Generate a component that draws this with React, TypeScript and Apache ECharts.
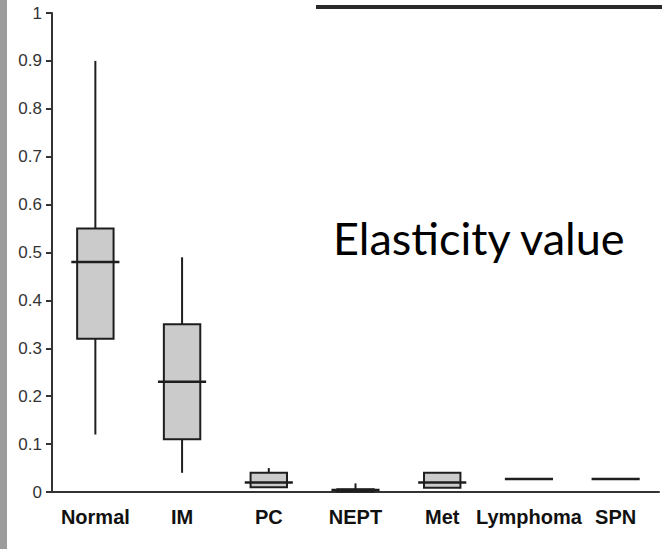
import React, { useEffect, useRef } from "react";
import * as echarts from "echarts";

const categories = ["Normal", "IM", "PC", "NEPT", "Met", "Lymphoma", "SPN"];
const mins = [0.12, 0.04, 0.01, 0.0, 0.009, 0.027, 0.027];
const q1s = [0.32, 0.11, 0.01, 0.001, 0.009, 0.027, 0.027];
const medians = [0.48, 0.23, 0.02, 0.004, 0.02, 0.027, 0.027];
const q3s = [0.55, 0.35, 0.04, 0.006, 0.04, 0.027, 0.027];
const maxs = [0.9, 0.49, 0.05, 0.018, 0.04, 0.027, 0.027];
const yTicks = [0, 0.1, 0.2, 0.3, 0.4, 0.5, 0.6, 0.7, 0.8, 0.9, 1];
const annotation = "Elasticity value";

export default function App() {
  const ref = useRef<HTMLDivElement>(null);
  useEffect(() => {
    if (!ref.current) return;
    const chart = echarts.init(ref.current, null, { renderer: "svg" });
    const data = categories.map((_, i) => [i, mins[i], q1s[i], medians[i], q3s[i], maxs[i]]);
    const renderItem = (params: any, api: any) => {
      const idx = api.value(0);
      const band = api.size([1, 0])[0];
      const boxW = band * 0.42;
      const medW = band * 0.555;
      const pMin = api.coord([idx, api.value(1)]);
      const pQ1 = api.coord([idx, api.value(2)]);
      const pMed = api.coord([idx, api.value(3)]);
      const pQ3 = api.coord([idx, api.value(4)]);
      const pMax = api.coord([idx, api.value(5)]);
      const x = pMed[0];
      const stroke = "#1e1e1e";
      return {
        type: "group",
        children: [
          {
            type: "line",
            shape: { x1: x, y1: pMax[1], x2: x, y2: pQ3[1] },
            style: { stroke, lineWidth: 2 },
          },
          {
            type: "line",
            shape: { x1: x, y1: pQ1[1], x2: x, y2: pMin[1] },
            style: { stroke, lineWidth: 2 },
          },
          {
            type: "rect",
            shape: { x: x - boxW / 2, y: pQ3[1], width: boxW, height: pQ1[1] - pQ3[1] },
            style: { fill: "#cbcbcb", stroke, lineWidth: 2 },
          },
          {
            type: "line",
            shape: { x1: x - medW / 2, y1: pMed[1], x2: x + medW / 2, y2: pMed[1] },
            style: { stroke, lineWidth: 2.5 },
          },
        ],
      };
    };
    chart.setOption({
      animation: false,
      backgroundColor: "#ffffff",
      grid: { left: 52, right: 3, top: 13, bottom: 57 },
      xAxis: {
        type: "category",
        data: categories,
        boundaryGap: true,
        axisLine: { lineStyle: { color: "#333", width: 2 } },
        axisTick: { show: false },
        axisLabel: {
          color: "#111",
          fontFamily: "Liberation Sans, Arial, sans-serif",
          fontWeight: "bold",
          fontSize: 20,
          margin: 15,
          interval: 0,
        },
      },
      yAxis: {
        type: "value",
        min: 0,
        max: 1,
        interval: 0.1,
        splitLine: { show: false },
        axisLine: { show: true, lineStyle: { color: "#333", width: 2 } },
        axisTick: { show: true, length: 6, lineStyle: { color: "#333", width: 2 } },
        axisLabel: {
          color: "#333",
          fontFamily: "Liberation Sans, Arial, sans-serif",
          fontSize: 17,
          margin: 10,
          formatter: (v: number) => {
            const t = yTicks.find((k) => Math.abs(k - v) < 1e-6);
            return t === undefined ? "" : String(t);
          },
        },
      },
      graphic: [
        {
          type: "rect",
          left: 0,
          top: 0,
          shape: { width: 7, height: 549 },
          style: { fill: "#9c9c9c" },
          silent: true,
        },
        {
          type: "line",
          shape: { x1: 316, y1: 7, x2: 662, y2: 7 },
          style: { stroke: "#2a2a2a", lineWidth: 4 },
          silent: true,
        },
        {
          type: "text",
          left: 333,
          top: 215,
          style: {
            text: annotation,
            fill: "#000",
            font: "45px Lato, 'Open Sans', sans-serif",
          },
        },
      ],
      series: [
        {
          type: "custom",
          renderItem,
          data,
          encode: { x: 0, y: [1, 2, 3, 4, 5] },
          silent: true,
        },
      ],
    });
    return () => chart.dispose();
  }, []);
  return <div ref={ref} style={{ width: 662, height: 549, position: "absolute", left: 0, top: 0 }} />;
}
